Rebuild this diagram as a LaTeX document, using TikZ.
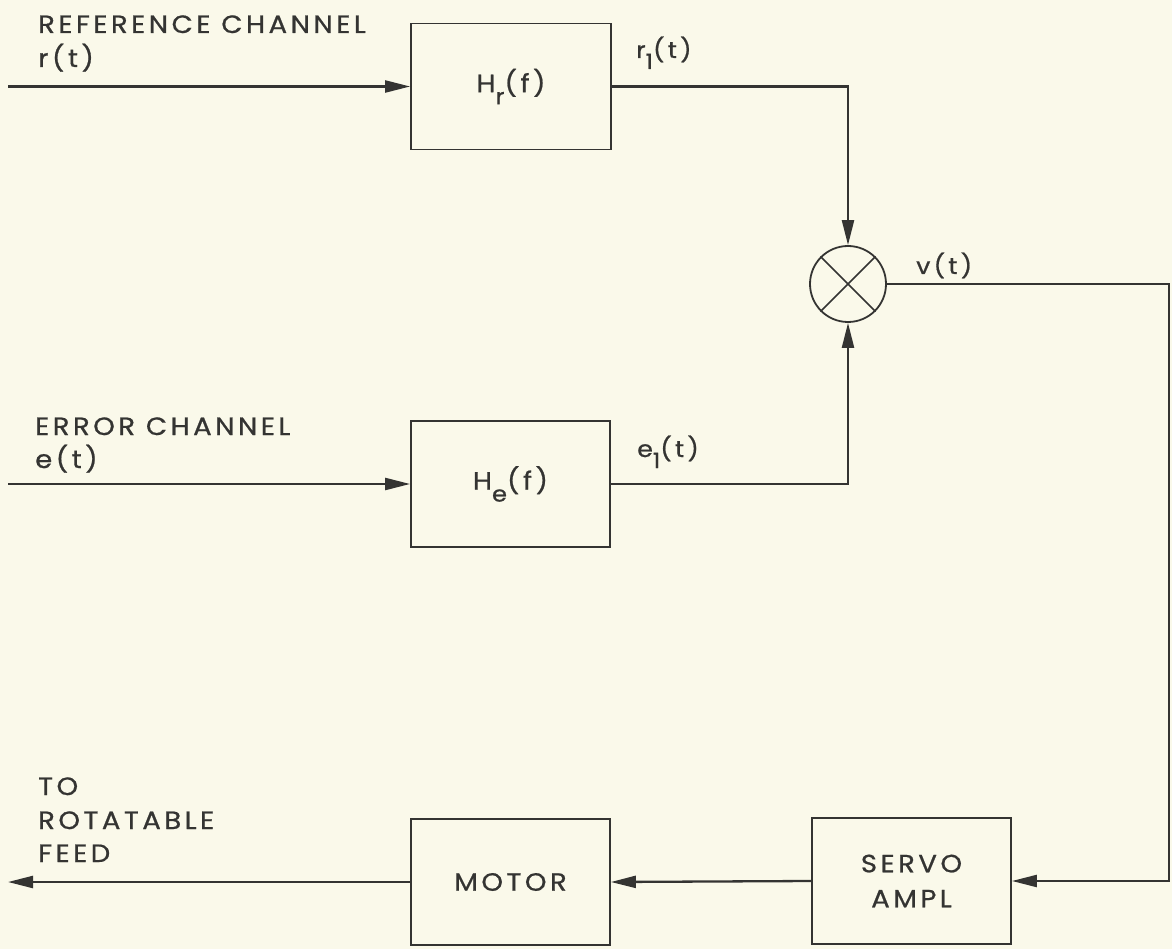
\documentclass[tikz,border=0pt]{standalone}
\usepackage{fontspec}
\setmainfont{Poppins}[LetterSpace=14, FakeStretch=1.1, FakeBold=0.8]
\usetikzlibrary{arrows.meta}
\definecolor{paper}{RGB}{250,249,234}
\definecolor{ink}{RGB}{52,52,50}
\newcommand\lowsub[1]{\raisebox{-12pt}{\fontsize{22}{22}\selectfont #1}}
\newcommand\lowone{\raisebox{-11pt}{\fontsize{21}{21}\selectfont 1}}
\begin{document}
\begin{tikzpicture}[x=1pt,y=-1pt,
  blockbox/.style={draw=ink, line width=1.8pt, minimum width=200pt, minimum height=126pt,
    inner sep=0pt, text=ink, font=\fontsize{25}{35}\selectfont, align=center},
  wire/.style={draw=ink, line width=2.3pt},
  arr/.style={wire, -{Triangle[length=25pt,width=12pt]}},
  lbl/.style={text=ink, inner sep=0pt, anchor=base west, font=\fontsize{25}{33}\selectfont},
  sig/.style={text=ink, inner sep=0pt, anchor=base west, font=\fontsize{23}{25}\selectfont}]
\useasboundingbox[fill=paper] (0,0) rectangle (1172,949);

% blocks
\node[blockbox] (hr) at (511,86.5) {H\lowsub{r}(f)};
\node[blockbox, minimum width=199pt] (he) at (510.5,484) {H\lowsub{e}(f)};
\node[blockbox, minimum width=199pt] (motor) at (510.5,882) {MOTOR};
\node[blockbox, minimum width=199pt] (servo) at (911.5,881) {SERVO\\AMPL};
\node[circle, draw=ink, line width=1.8pt, minimum size=76pt, inner sep=0pt] (mix) at (848,284) {};
\draw[ink, line width=1.6pt] (mix.45) -- (mix.225);
\draw[ink, line width=1.6pt] (mix.135) -- (mix.315);

% free ends and corners
\coordinate (rin) at (8,86.5);
\coordinate (ein) at (8,484);
\coordinate (outp) at (8,882);
\coordinate (vc) at (1169,284);

% connectors
\draw[arr] (rin) -- (hr.west);
\draw[arr] (hr.east) -| (mix.north);
\draw[arr] (ein) -- (he.west);
\draw[arr] (he.east) -| (mix.south);
\draw[arr] (mix.east) -- (vc) |- (servo.east);
\draw[arr] (servo.west) -- (motor.east);
\draw[arr] (motor.west) -- (outp);

% labels
\node[lbl] (refl) at (38,33) {REFERENCE CHANNEL};
\node[lbl] (rt) at (38,67) {r(t)};
\node[lbl] (errl) at (35,435) {ERROR CHANNEL};
\node[lbl] (et) at (35,468) {e(t)};
\node[lbl] (to1) at (38,795) {TO};
\node[lbl] (to2) at (38,829) {ROTATABLE};
\node[lbl] (to3) at (38,862) {FEED};
\node[sig] (r1) at (636,58) {r\lowone(t)};
\node[sig] (e1) at (637,457) {e\lowone(t)};
\node[sig] (vt) at (916,274) {v(t)};
\end{tikzpicture}
\end{document}
